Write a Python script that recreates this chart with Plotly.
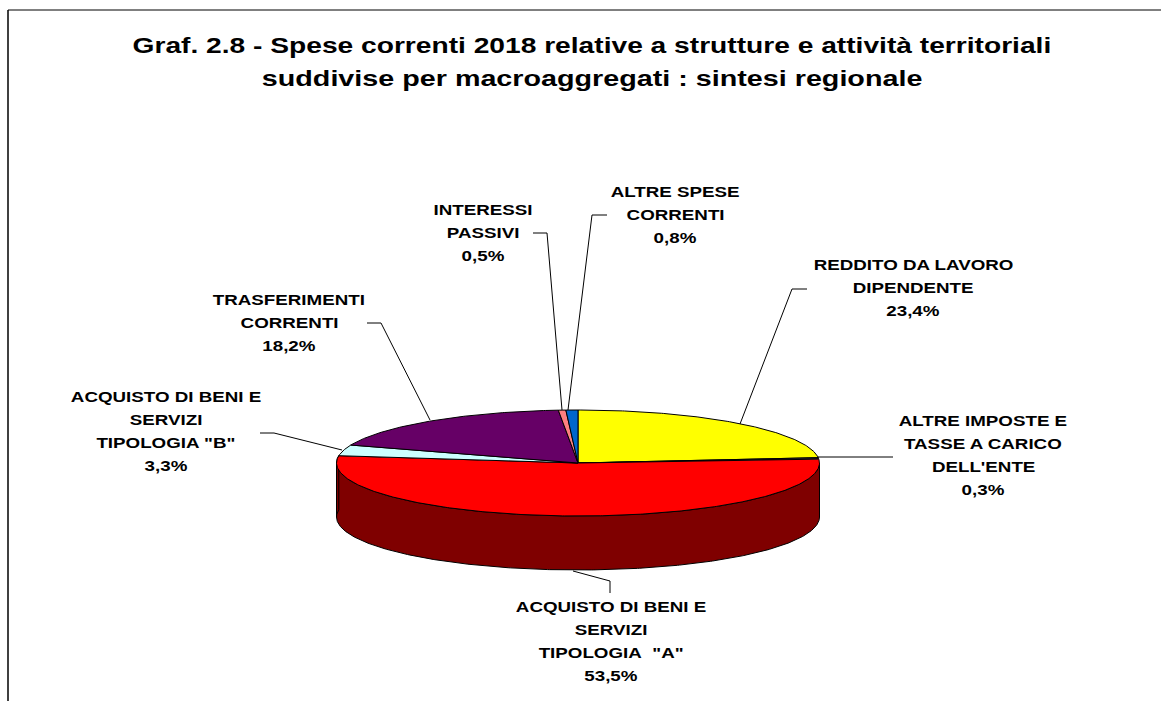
import numpy as np
import plotly.graph_objects as go

# --- data (clockwise from 12 o'clock) ---
label_lines = [
    ["REDDITO DA LAVORO", "DIPENDENTE"],
    ["ALTRE IMPOSTE E", "TASSE A CARICO", "DELL'ENTE"],
    ["ACQUISTO DI BENI E", "SERVIZI", "TIPOLOGIA  \"A\""],
    ["ACQUISTO DI BENI E", "SERVIZI", "TIPOLOGIA \"B\""],
    ["TRASFERIMENTI", "CORRENTI"],
    ["INTERESSI", "PASSIVI"],
    ["ALTRE SPESE", "CORRENTI"],
]
values = [23.4, 0.3, 53.5, 3.3, 18.2, 0.5, 0.8]
value_text = ["23,4%", "0,3%", "53,5%", "3,3%", "18,2%", "0,5%", "0,8%"]
colors = ["#FFFF00", "#808080", "#FF0000", "#CCFFFF", "#660066", "#FF8080", "#0066CC"]
title_lines = ["Graf. 2.8 - Spese correnti 2018 relative a strutture e attività territoriali",
               "suddivise per macroaggregati : sintesi regionale"]

# --- layout geometry (pixels of the page) ---
W, H = 1161, 701
CX, CY, RX, RY, DEPTH = 578, 463, 241.5, 53, 54
LINE_H = 23
label_pos = [(913, 265), (983, 421), (611, 607), (166, 397), (289, 300), (483, 210), (675, 192)]
leaders = [
    [(807, 289), (792, 289), (740, 424)],
    [(817, 457), (893, 457)],
    [(573, 571), (610, 581), (610, 593)],
    [(260, 433), (274, 433), (342, 450)],
    [(367, 323), (381, 323), (430, 420)],
    [(533, 233), (547, 233), (562, 410)],
    [(607, 215), (592, 215), (568, 410)],
]


def darker(c):
    return "#%02X%02X%02X" % tuple(int(c[i:i + 2], 16) // 2 for i in (1, 3, 5))


def rim(a0, a1, dy=0.0):
    t = np.radians(np.linspace(a0, a1, max(int(abs(a1 - a0) * 2), 2)))
    return CX + RX * np.sin(t), CY - RY * np.cos(t) + dy


fig = go.Figure()
edges = np.concatenate([[0], np.cumsum(values)]) / sum(values) * 360

# side walls: only the part of each slice that faces the viewer
for i, v in enumerate(values):
    a0, a1 = max(edges[i], 90), min(edges[i + 1], 270)
    if a1 > a0:
        x0, y0 = rim(a0, a1)
        x1, y1 = rim(a1, a0, DEPTH)
        fig.add_trace(go.Scatter(x=np.r_[x0, x1, x0[0]], y=np.r_[y0, y1, y0[0]], mode="lines", fill="toself",
                                 fillcolor=darker(colors[i]), line=dict(color="#000000", width=1),
                                 hoverinfo="skip", showlegend=False))
# vertical end of the wall at the left, where the red slice runs past 270 degrees
i_red = 2
x0, y0 = rim(270, edges[i_red + 1])
x1, y1 = rim(edges[i_red + 1], 270, DEPTH)
fig.add_trace(go.Scatter(x=np.r_[x0, x1, x0[0]], y=np.r_[y0, y1, y0[0]], mode="lines", fill="toself",
                         fillcolor=darker(colors[i_red]), line=dict(color="#000000", width=1),
                         hoverinfo="skip", showlegend=False))

# top faces
for i, v in enumerate(values):
    x, y = rim(edges[i], edges[i + 1])
    fig.add_trace(go.Scatter(x=np.r_[CX, x, CX], y=np.r_[CY, y, CY], mode="lines", fill="toself",
                             fillcolor=colors[i], line=dict(color="#000000", width=1),
                             name=" ".join(label_lines[i]), text=value_text[i], hoverinfo="name+text",
                             showlegend=False))

for pts in leaders:
    xs, ys = zip(*pts)
    fig.add_trace(go.Scatter(x=xs, y=ys, mode="lines", line=dict(color="#000000", width=1),
                             hoverinfo="skip", showlegend=False))

annotations = []
LABEL_FONT = dict(family="Liberation Sans", size=14, color="#000000", weight="bold")
TITLE_FONT = dict(family="Liberation Sans", size=22, color="#000000", weight="bold")
for (tx, ty), lines, val in zip(label_pos, label_lines, value_text):
    for k, s in enumerate(lines + [val]):
        annotations.append(dict(x=tx, y=ty + k * LINE_H, text=s.replace(" ", "&nbsp;") if "  " in s else s,
                                showarrow=False, xanchor="center", yanchor="middle",
                                font=LABEL_FONT, xref="x", yref="y"))
for k, s in enumerate(title_lines):
    annotations.append(dict(x=592, y=45 + k * 33, text=s, showarrow=False, xanchor="center",
                            yanchor="middle", font=TITLE_FONT, xref="x", yref="y"))

shapes = [
    dict(type="line", x0=8, x1=8, y0=10, y1=H, xref="x", yref="y", line=dict(color="#000000", width=1.5)),
    dict(type="line", x0=8, x1=W, y0=10, y1=10, xref="x", yref="y", line=dict(color="#000000", width=1)),
]

fig.update_layout(
    width=W, height=H, margin=dict(l=0, r=0, t=0, b=0), autosize=False,
    paper_bgcolor="#FFFFFF", plot_bgcolor="#FFFFFF", showlegend=False,
    xaxis=dict(range=[0, W], visible=False, fixedrange=True),
    yaxis=dict(range=[H, 0], visible=False, fixedrange=True),
    annotations=annotations, shapes=shapes,
)

# The reference's lettering is wider than any installed face: widen the real text horizontally.
STRETCH_JS = """
document.body.style.margin='0';document.body.style.overflow='hidden';
function widen(){
  document.querySelectorAll('.annotation-text').forEach(function(t){
    if(t.getAttribute('textLength')) return;
    var big = parseFloat(getComputedStyle(t).fontSize) > 18;
    var k = big ? (t.textContent.indexOf('suddivise')===0 ? 1.305 : 1.28) : 1.34;
    t.setAttribute('textLength', t.getComputedTextLength()*k);
    t.setAttribute('lengthAdjust','spacingAndGlyphs');
  });
}
widen(); setTimeout(widen,50); setTimeout(widen,300);
"""
fig.write_html("out.html", post_script=STRETCH_JS, config=dict(displayModeBar=False, responsive=False))
